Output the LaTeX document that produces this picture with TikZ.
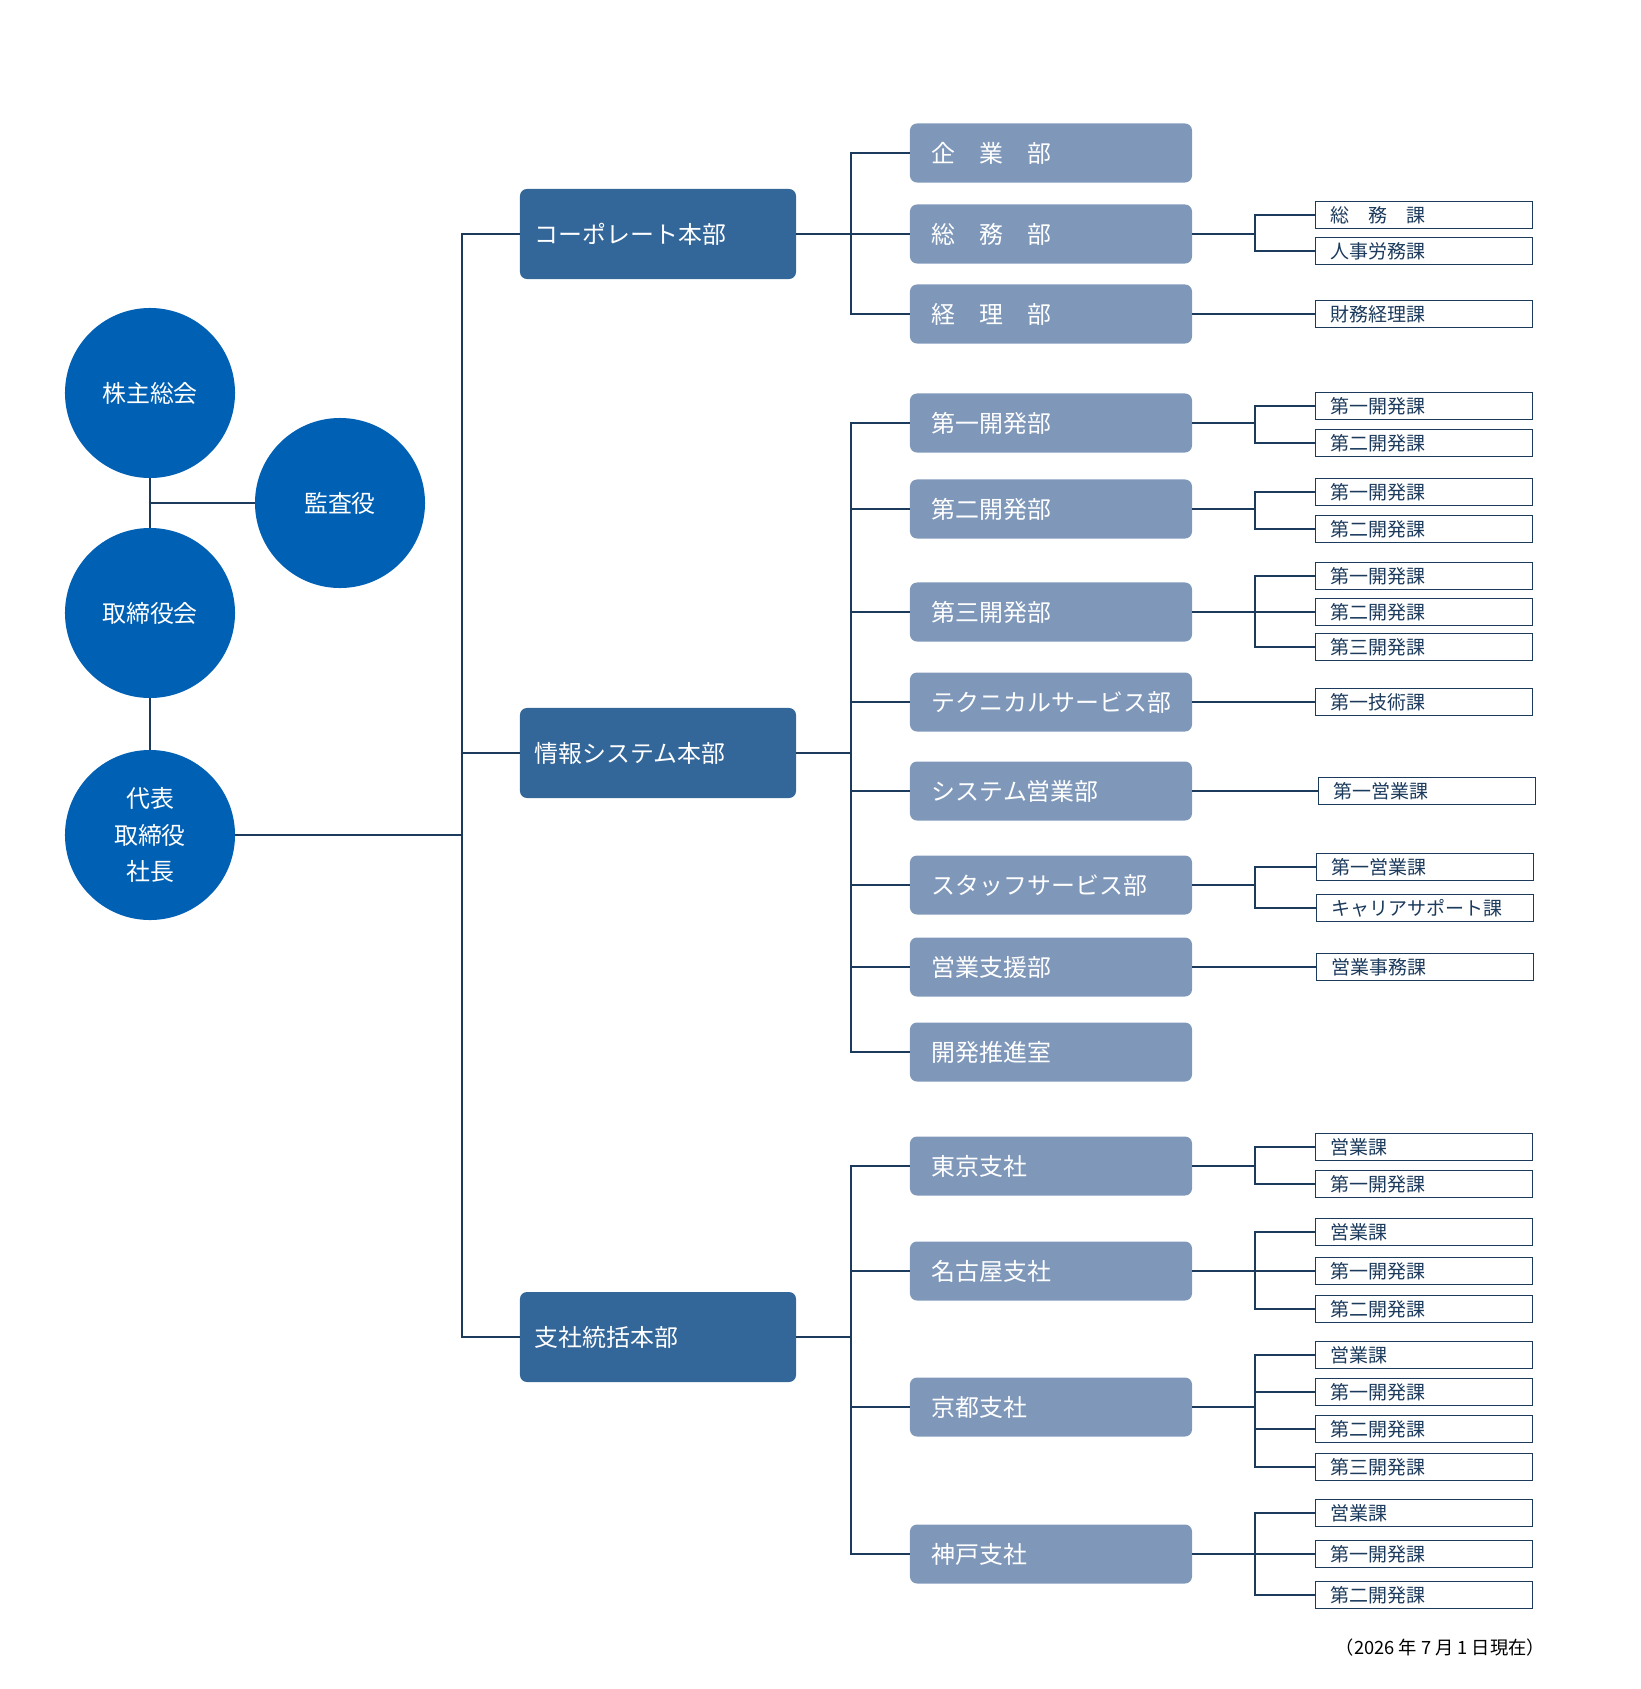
\documentclass[tikz,border=0pt]{standalone}
\usepackage{fontspec}
\setmainfont{Noto Sans CJK JP}
\usetikzlibrary{positioning}
\definecolor{circblue}{HTML}{0060B4}
\definecolor{honbublue}{HTML}{336699}
\definecolor{bublue}{HTML}{7F98BA}
\definecolor{linenavy}{HTML}{1B3A5C}

\begin{document}
\begin{tikzpicture}[
  x=0.025cm, y=-0.025cm,
  every node/.style={font=\fontsize{17}{26}\selectfont},
  org/.style={circle, fill=circblue, text=white, minimum size=4.25cm,
    inner sep=0pt, align=center},
  honbu/.style={rectangle, rounded corners=5pt, fill=honbublue, text=white,
    minimum height=2.25cm, text width=6.15cm, inner xsep=0.375cm, align=left},
  bu/.style={rectangle, rounded corners=5pt, fill=bublue, text=white,
    minimum height=1.475cm, text width=5.95cm, inner xsep=0.55cm, align=left},
  ka/.style={rectangle, draw=linenavy, fill=white, line width=1.2pt, text=linenavy,
    minimum height=0.675cm, text width=4.675cm, inner xsep=0.375cm, inner ysep=0pt,
    align=left, font=\fontsize{13.5}{15}\selectfont},
  link/.style={draw=linenavy, line width=1.8pt},
]
  \useasboundingbox (0,0) rectangle (1640,1689);

  %% Top of the company (circles on the left)
  \node[org] (kabunushi) at (150,393) {株主総会};
  \node[org] (kansa) at (340,503) {監査役};
  \node[org] (torishimari) at (150,613) {取締役会};
  \node[org] (daihyo) at (150,835) {代表\\取締役\\社長};

  %% Honbu (column 2)
  \node[honbu] (corp) at (658,234) {コーポレート本部};
  \node[honbu] (jouhou) at (658,753) {情報システム本部};
  \node[honbu] (shisha) at (658,1337) {支社統括本部};

  %% Bu (column 3)
  \node[bu] (kigyo) at (1051,153) {企　業　部};
  \node[bu] (somu) at (1051,234) {総　務　部};
  \node[bu] (keiri) at (1051,314) {経　理　部};
  \node[bu] (kai1) at (1051,423) {第一開発部};
  \node[bu] (kai2) at (1051,509) {第二開発部};
  \node[bu] (kai3) at (1051,612) {第三開発部};
  \node[bu] (tech) at (1051,702) {テクニカルサービス部};
  \node[bu] (syseigyo) at (1051,791) {システム営業部};
  \node[bu] (staff) at (1051,885) {スタッフサービス部};
  \node[bu] (shien) at (1051,967) {営業支援部};
  \node[bu] (suishin) at (1051,1052) {開発推進室};
  \node[bu] (tokyo) at (1051,1166) {東京支社};
  \node[bu] (nagoya) at (1051,1271) {名古屋支社};
  \node[bu] (kyoto) at (1051,1407) {京都支社};
  \node[bu] (kobe) at (1051,1554) {神戸支社};

  %% Ka (column 4)
  \node[ka] (somuka) at (1424,215) {総　務　課};
  \node[ka] (jinji) at (1424,251) {人事労務課};
  \node[ka] (zaimu) at (1424,314) {財務経理課};
  \node[ka] (kai1a) at (1424,406) {第一開発課};
  \node[ka] (kai1b) at (1424,443) {第二開発課};
  \node[ka] (kai2a) at (1424,492) {第一開発課};
  \node[ka] (kai2b) at (1424,529) {第二開発課};
  \node[ka] (kai3a) at (1424,576) {第一開発課};
  \node[ka] (kai3b) at (1424,612) {第二開発課};
  \node[ka] (kai3c) at (1424,647) {第三開発課};
  \node[ka] (tech1) at (1424,702) {第一技術課};
  \node[ka] (syseigyo1) at (1427,791) {第一営業課};
  \node[ka] (staff1) at (1425,867) {第一営業課};
  \node[ka] (staff2) at (1425,908) {キャリアサポート課};
  \node[ka] (shien1) at (1425,967) {営業事務課};
  \node[ka] (tokyo1) at (1424,1147) {営業課};
  \node[ka] (tokyo2) at (1424,1184) {第一開発課};
  \node[ka] (nagoya1) at (1424,1232) {営業課};
  \node[ka] (nagoya2) at (1424,1271) {第一開発課};
  \node[ka] (nagoya3) at (1424,1309) {第二開発課};
  \node[ka] (kyoto1) at (1424,1355) {営業課};
  \node[ka] (kyoto2) at (1424,1392) {第一開発課};
  \node[ka] (kyoto3) at (1424,1429) {第二開発課};
  \node[ka] (kyoto4) at (1424,1467) {第三開発課};
  \node[ka] (kobe1) at (1424,1513) {営業課};
  \node[ka] (kobe2) at (1424,1554) {第一開発課};
  \node[ka] (kobe3) at (1424,1595) {第二開発課};

  \node[anchor=east, font=\fontsize{13}{15}\selectfont] (asof) at (1550,1648)
    {（2026 年 7 月 1 日現在）};

  %% Bus lines
  \coordinate (trunk) at (462,0);
  \coordinate (bus) at (851,0);
  \coordinate (branch) at (1255,0);

  %% Circles
  \draw[link] (kabunushi.south) -- (torishimari.north);
  \draw[link] (kansa.west) -- (kansa.west -| kabunushi.south);
  \draw[link] (torishimari.south) -- (daihyo.north);

  %% Daihyo -> honbu
  \draw[link] (daihyo.east) -- (trunk |- daihyo.east);
  \draw[link] (corp.west) -| (trunk |- shisha.west) -- (shisha.west);
  \draw[link] (jouhou.west) -- (trunk |- jouhou.west);

  %% Honbu -> bu
  \draw[link] (kigyo.west) -| (bus |- keiri.west) -- (keiri.west);
  \draw[link] (corp.east) -- (somu.west);
  \draw[link] (kai1.west) -| (bus |- suishin.west) -- (suishin.west);
  \draw[link] (jouhou.east) -- (bus |- jouhou.east);
  \draw[link] (kai2.west) -- (bus |- kai2.west);
  \draw[link] (kai3.west) -- (bus |- kai3.west);
  \draw[link] (tech.west) -- (bus |- tech.west);
  \draw[link] (syseigyo.west) -- (bus |- syseigyo.west);
  \draw[link] (staff.west) -- (bus |- staff.west);
  \draw[link] (shien.west) -- (bus |- shien.west);
  \draw[link] (tokyo.west) -| (bus |- kobe.west) -- (kobe.west);
  \draw[link] (shisha.east) -- (bus |- shisha.east);
  \draw[link] (nagoya.west) -- (bus |- nagoya.west);
  \draw[link] (kyoto.west) -- (bus |- kyoto.west);

  %% Bu -> ka
  \draw[link] (somu.east) -- (branch |- somu.east);
  \draw[link] (somuka.west) -| (branch |- jinji.west) -- (jinji.west);
  \draw[link] (keiri.east) -- (zaimu.west);
  \draw[link] (kai1.east) -- (branch |- kai1.east);
  \draw[link] (kai1a.west) -| (branch |- kai1b.west) -- (kai1b.west);
  \draw[link] (kai2.east) -- (branch |- kai2.east);
  \draw[link] (kai2a.west) -| (branch |- kai2b.west) -- (kai2b.west);
  \draw[link] (kai3.east) -- (kai3b.west);
  \draw[link] (kai3a.west) -| (branch |- kai3c.west) -- (kai3c.west);
  \draw[link] (tech.east) -- (tech1.west);
  \draw[link] (syseigyo.east) -- (syseigyo1.west);
  \draw[link] (staff.east) -- (branch |- staff.east);
  \draw[link] (staff1.west) -| (branch |- staff2.west) -- (staff2.west);
  \draw[link] (shien.east) -- (shien1.west);
  \draw[link] (tokyo.east) -- (branch |- tokyo.east);
  \draw[link] (tokyo1.west) -| (branch |- tokyo2.west) -- (tokyo2.west);
  \draw[link] (nagoya.east) -- (nagoya2.west);
  \draw[link] (nagoya1.west) -| (branch |- nagoya3.west) -- (nagoya3.west);
  \draw[link] (kyoto.east) -- (branch |- kyoto.east);
  \draw[link] (kyoto1.west) -| (branch |- kyoto4.west) -- (kyoto4.west);
  \draw[link] (kyoto2.west) -- (branch |- kyoto2.west);
  \draw[link] (kyoto3.west) -- (branch |- kyoto3.west);
  \draw[link] (kobe.east) -- (kobe2.west);
  \draw[link] (kobe1.west) -| (branch |- kobe3.west) -- (kobe3.west);
\end{tikzpicture}
\end{document}
